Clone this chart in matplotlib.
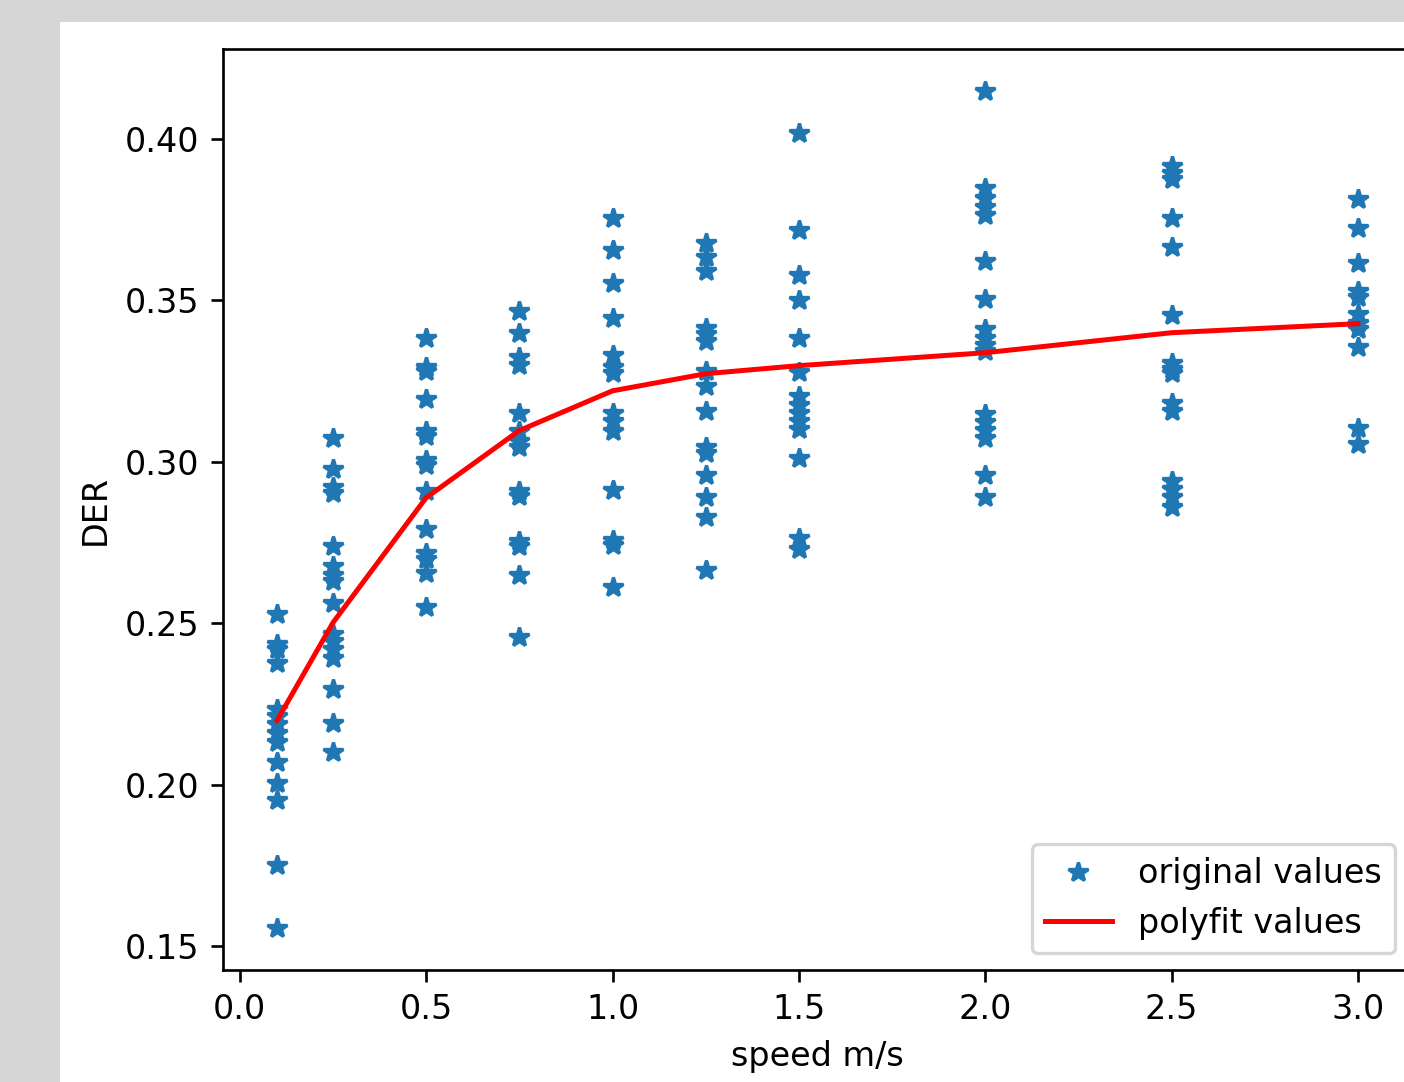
import matplotlib
matplotlib.use("Agg")
import matplotlib.pyplot as plt
from matplotlib.patches import Rectangle

# speed columns (m/s) and DER values
speeds = [0.1, 0.25, 0.5, 0.75, 1.0, 1.25, 1.5, 2.0, 2.5, 3.0]

der_01 = [0.253, 0.2437, 0.2422, 0.2376, 0.2236, 0.2212, 0.2187, 0.2159, 0.2134,
          0.2072, 0.2004, 0.1952, 0.1751, 0.1556]
der_025 = [0.3075, 0.2979, 0.2923, 0.2905, 0.2738, 0.2676, 0.2651, 0.2632, 0.2564,
           0.2468, 0.2444, 0.2422, 0.2394, 0.2298, 0.2190, 0.2103]
der_05 = [0.3384, 0.3295, 0.3282, 0.3196, 0.3097, 0.3081, 0.3007, 0.2991, 0.2911,
          0.2793, 0.2719, 0.2700, 0.2657, 0.2552]
der_075 = [0.3468, 0.3400, 0.3326, 0.3301, 0.3152, 0.3097, 0.3066, 0.3047, 0.2911,
           0.2895, 0.2756, 0.2741, 0.2651, 0.2459]
der_10 = [0.3756, 0.3657, 0.3554, 0.3446, 0.3332, 0.3295, 0.3276, 0.3152, 0.3127,
          0.3097, 0.2914, 0.2759, 0.2744, 0.2614]
der_125 = [0.3678, 0.3635, 0.3592, 0.3415, 0.3397, 0.3375, 0.3282, 0.3236, 0.3158,
           0.3047, 0.3028, 0.2960, 0.2892, 0.2830, 0.2666]
der_15 = [0.4019, 0.3718, 0.3579, 0.3502, 0.3384, 0.3279, 0.3205, 0.3177, 0.3152,
          0.3127, 0.3103, 0.3013, 0.2765, 0.2731]
der_20 = [0.4149, 0.3848, 0.3817, 0.3790, 0.3765, 0.3623, 0.3505, 0.3412, 0.3384,
          0.3363, 0.3344, 0.3149, 0.3124, 0.3100, 0.3075, 0.2960, 0.2892]
der_25 = [0.3916, 0.3895, 0.3876, 0.3756, 0.3666, 0.3455, 0.3307, 0.3288, 0.3276,
          0.3183, 0.3158, 0.2942, 0.2917, 0.2892, 0.2861]
der_30 = [0.3814, 0.3725, 0.3616, 0.3530, 0.3511, 0.3459, 0.3431, 0.3412, 0.3356,
          0.3106, 0.3056]

# fitted curve value at each speed
fit_values = [0.2199, 0.2502, 0.2889, 0.3097, 0.3220, 0.3273, 0.3298, 0.3338, 0.3400, 0.3428]

DPI = 240
W_PX, H_PX = 1404, 1082


def main():
    columns = [der_01, der_025, der_05, der_075, der_10, der_125, der_15, der_20, der_25, der_30]
    xs = []
    ys = []
    for speed, values in zip(speeds, columns):
        xs.extend([speed] * len(values))
        ys.extend(values)

    fig = plt.figure(figsize=(W_PX / DPI, H_PX / DPI), dpi=DPI, facecolor="#d6d6d6")
    # white canvas of the cropped screenshot, kept behind the axes
    fig.patches.append(Rectangle((60 / W_PX, 0), 1 - 60 / W_PX, (H_PX - 22) / H_PX,
                                 transform=fig.transFigure, facecolor="white",
                                 edgecolor="none", zorder=-10))

    left, right, top, bottom = 223, 1412, 49, 970
    ax = fig.add_axes([left / W_PX, (H_PX - bottom) / H_PX,
                       (right - left) / W_PX, (bottom - top) / H_PX])
    ax.set_zorder(1)

    ax.plot(xs, ys, "*", color="tab:blue", label="original values")
    ax.plot(speeds, fit_values, "r", label="polyfit values")
    ax.set_xlabel("speed m/s")
    ax.set_ylabel("DER")
    ax.set_xticks([0.0, 0.5, 1.0, 1.5, 2.0, 2.5, 3.0])
    ax.set_yticks([0.15, 0.20, 0.25, 0.30, 0.35, 0.40])
    ax.legend(loc="lower right")

    fig.savefig("out.png", dpi=DPI, facecolor=fig.get_facecolor())


if __name__ == "__main__":
    main()
